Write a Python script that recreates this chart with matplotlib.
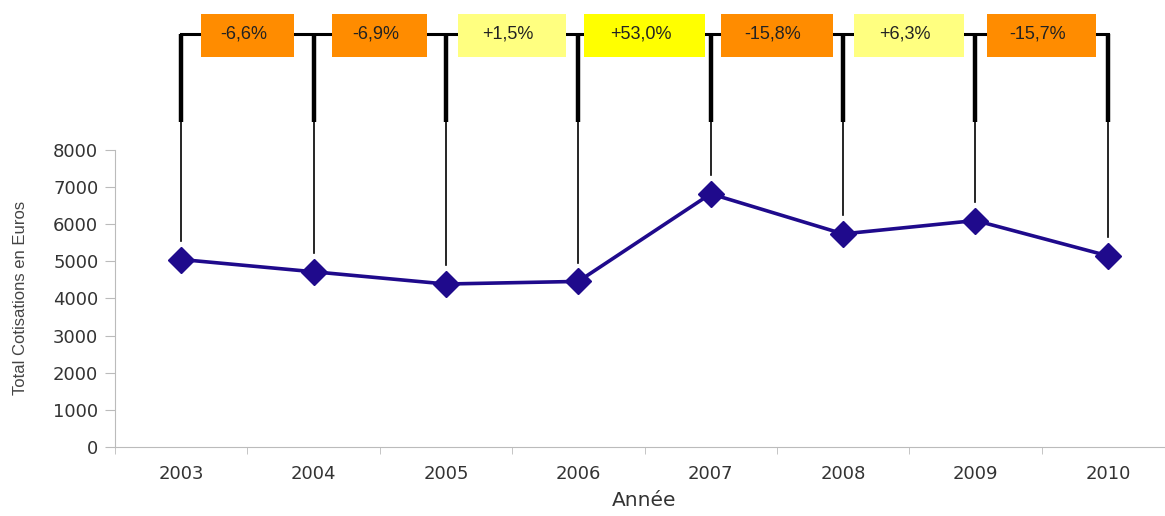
import matplotlib.pyplot as plt
from matplotlib.patches import Rectangle

annees = ["2003", "2004", "2005", "2006", "2007", "2008", "2009", "2010"]
cotisations = [5050, 4720, 4390, 4460, 6820, 5740, 6100, 5150]
variations = ["-6,6%", "-6,9%", "+1,5%", "+53,0%", "-15,8%", "+6,3%", "-15,7%"]
couleurs_var = ["#FF8C00", "#FF8C00", "#FFFF80", "#FFFF00", "#FF8C00", "#FFFF80", "#FF8C00"]

fig = plt.figure(figsize=(11.65, 5.16), dpi=100)
ax = fig.add_axes([115 / 1165, 69 / 516, (1174 - 115) / 1165, 447 / 516])

x = list(range(len(annees)))
y_haut = 12040  # haut de l'axe (au-dessus de 8000 pour les annotations)

# lignes verticales fines puis epaisses au-dessus de chaque point
for xi, v in zip(x, cotisations):
    ax.plot([xi, xi], [v + 500, 8754], color="black", lw=1.2, zorder=2)
    ax.plot([xi, xi], [8754, 11125], color="black", lw=3.2, zorder=2,
            solid_capstyle="butt")
ax.plot([x[0], x[-1]], [11125, 11125], color="black", lw=2.2, zorder=2)

# encadres des variations entre deux annees
largeurs = [0.70, 0.72, 0.82, 0.91, 0.85, 0.83, 0.82]
for i, (lab, c) in enumerate(zip(variations, couleurs_var)):
    xm = i + 0.5
    w = largeurs[i]
    ax.add_patch(Rectangle((xm - w / 2, 10505), w, 1160, facecolor=c,
                           edgecolor="none", zorder=3))
    ax.text(xm - 0.03, 11130, lab, ha="center", va="center", fontsize=13,
            family="Liberation Sans", color="#222222", zorder=4)

ax.plot(x, cotisations, color="#1F0A8C", lw=2.6, marker="D", markersize=13,
        zorder=5)

ax.set_xlim(-0.5, len(annees) - 0.5)
ax.set_ylim(0, y_haut)
ax.set_yticks(range(0, 8001, 1000))
ax.set_xticks(x)
ax.set_xticklabels(annees)
ax.set_xticks([i - 0.5 for i in range(len(annees) + 1)], minor=True)

for s in ["top", "right"]:
    ax.spines[s].set_visible(False)
ax.spines["left"].set_bounds(0, 8000)
ax.spines["left"].set_color("#BBBBBB")
ax.spines["bottom"].set_color("#BBBBBB")

ax.tick_params(axis="y", length=7, color="#BBBBBB", labelsize=13,
               labelcolor="#333333", pad=5)
ax.tick_params(axis="x", which="major", length=0, labelsize=13,
               labelcolor="#333333", pad=13)
ax.tick_params(axis="x", which="minor", length=5, color="#BBBBBB")

ax.set_xlabel("Année", fontsize=14.5, color="#333333", labelpad=6)
ax.set_ylabel("Total Cotisations en Euros", fontsize=12,
              family="Liberation Sans", color="#444444")
ax.yaxis.set_label_coords(-0.082, 149 / 447)

fig.savefig("out.png", dpi=100)
